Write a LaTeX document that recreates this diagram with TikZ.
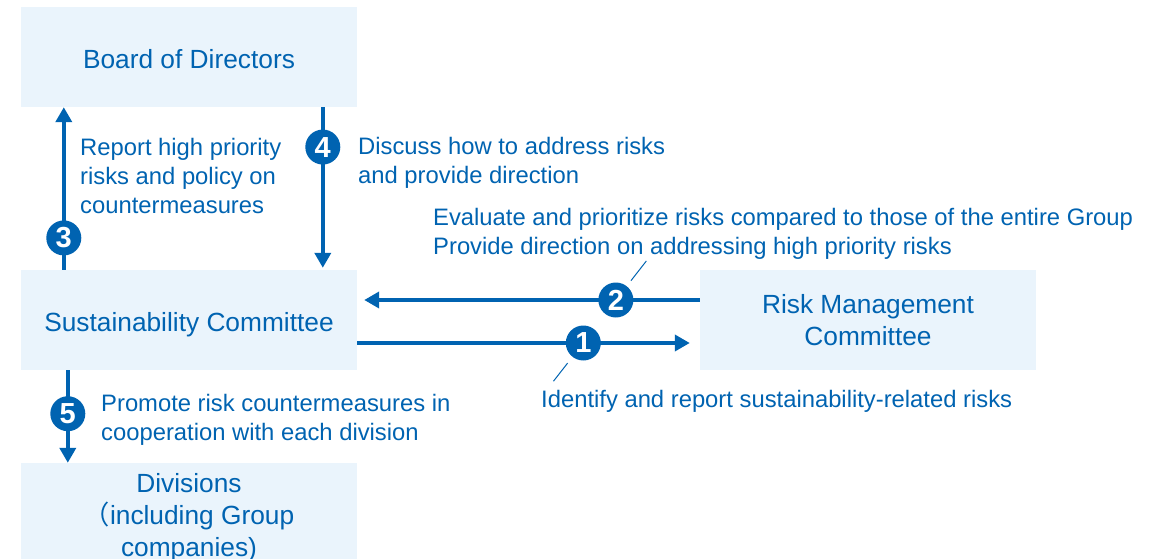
\documentclass[tikz,border=0pt]{standalone}
\usepackage{fontspec}
\setmainfont{Liberation Sans}
\newfontfamily\cjk{Noto Sans CJK JP}
\usetikzlibrary{arrows.meta}
\definecolor{boxblue}{RGB}{234,244,252}
\definecolor{inkblue}{RGB}{0,99,177}

\begin{document}
\begin{tikzpicture}[x=1pt, y=-1pt, line cap=butt]
  \tikzset{
    unit/.style={fill=boxblue, text=inkblue, minimum width=336pt, minimum height=100pt,
      inner sep=0pt, align=center, font=\fontsize{26.3}{32}\selectfont},
    oneline/.style={text height=23pt, text depth=0pt},
    note/.style={text=inkblue, anchor=west, align=left, inner sep=0pt,
      font=\fontsize{23.8}{29}\selectfont},
    flow/.style={draw=inkblue, line width=4pt, -{Triangle[width=16pt,length=15pt]}},
    badge/.style={circle, fill=inkblue, text=white, inner sep=0pt, minimum size=35pt,
      font=\fontsize{29}{29}\bfseries\selectfont},
    tick/.style={draw=inkblue, line width=1pt}
  }
  \useasboundingbox (0,0) rectangle (1163,559);

  % committees
  \node[unit, oneline] (board) at (189,57)  {Board of Directors};
  \node[unit, oneline] (sus)   at (189,320) {Sustainability Committee};
  \node[unit] (risk)  at (868,320) {Risk Management\\Committee};
  \node[unit, minimum height=110pt] (div) at (189,518) {Divisions\\{\cjk （}including Group\\companies)};

  % reporting lines
  \draw[flow] ([xshift=43pt]sus.north west) -- ([xshift=43pt]board.south west)
    node[badge, pos=0.196] (b3) {3};
  \draw[flow, shorten >=2pt] ([xshift=302pt]board.south west) -- ([xshift=302pt]sus.north west)
    node[badge, pos=0.245] (b4) {4};
  \draw[flow, shorten >=7pt] ([yshift=20pt]risk.west) -- ([yshift=20pt]sus.east)
    node[badge, pos=0.245] (b2) {2};
  \draw[flow, shorten >=10pt] ([yshift=-23pt]sus.east) -- ([yshift=-23pt]risk.west)
    node[badge, pos=0.66] (b1) {1};
  \draw[flow] ([xshift=47pt]sus.south west) -- ([xshift=47pt]div.north west)
    node[badge, pos=0.47] (b5) {5};

  % leader ticks
  \draw[tick] (b2.52) ++(52:5pt) -- ++(52:25pt);
  \draw[tick] (b1.232) ++(232:6pt) -- ++(232:23pt);

  % labels
  \node[note] (l3) at (80,176)  {Report high priority\\risks and policy on\\countermeasures};
  \node[note] (l4) at (358,163) {Discuss how to address risks\\and provide direction};
  \node[note] (l2) at (433,234) {Evaluate and prioritize risks compared to those of the entire Group\\Provide direction on addressing high priority risks};
  \node[note] (l1) at (541,401) {Identify and report sustainability-related risks};
  \node[note] (l5) at (101,420) {Promote risk countermeasures in\\cooperation with each division};
\end{tikzpicture}
\end{document}
